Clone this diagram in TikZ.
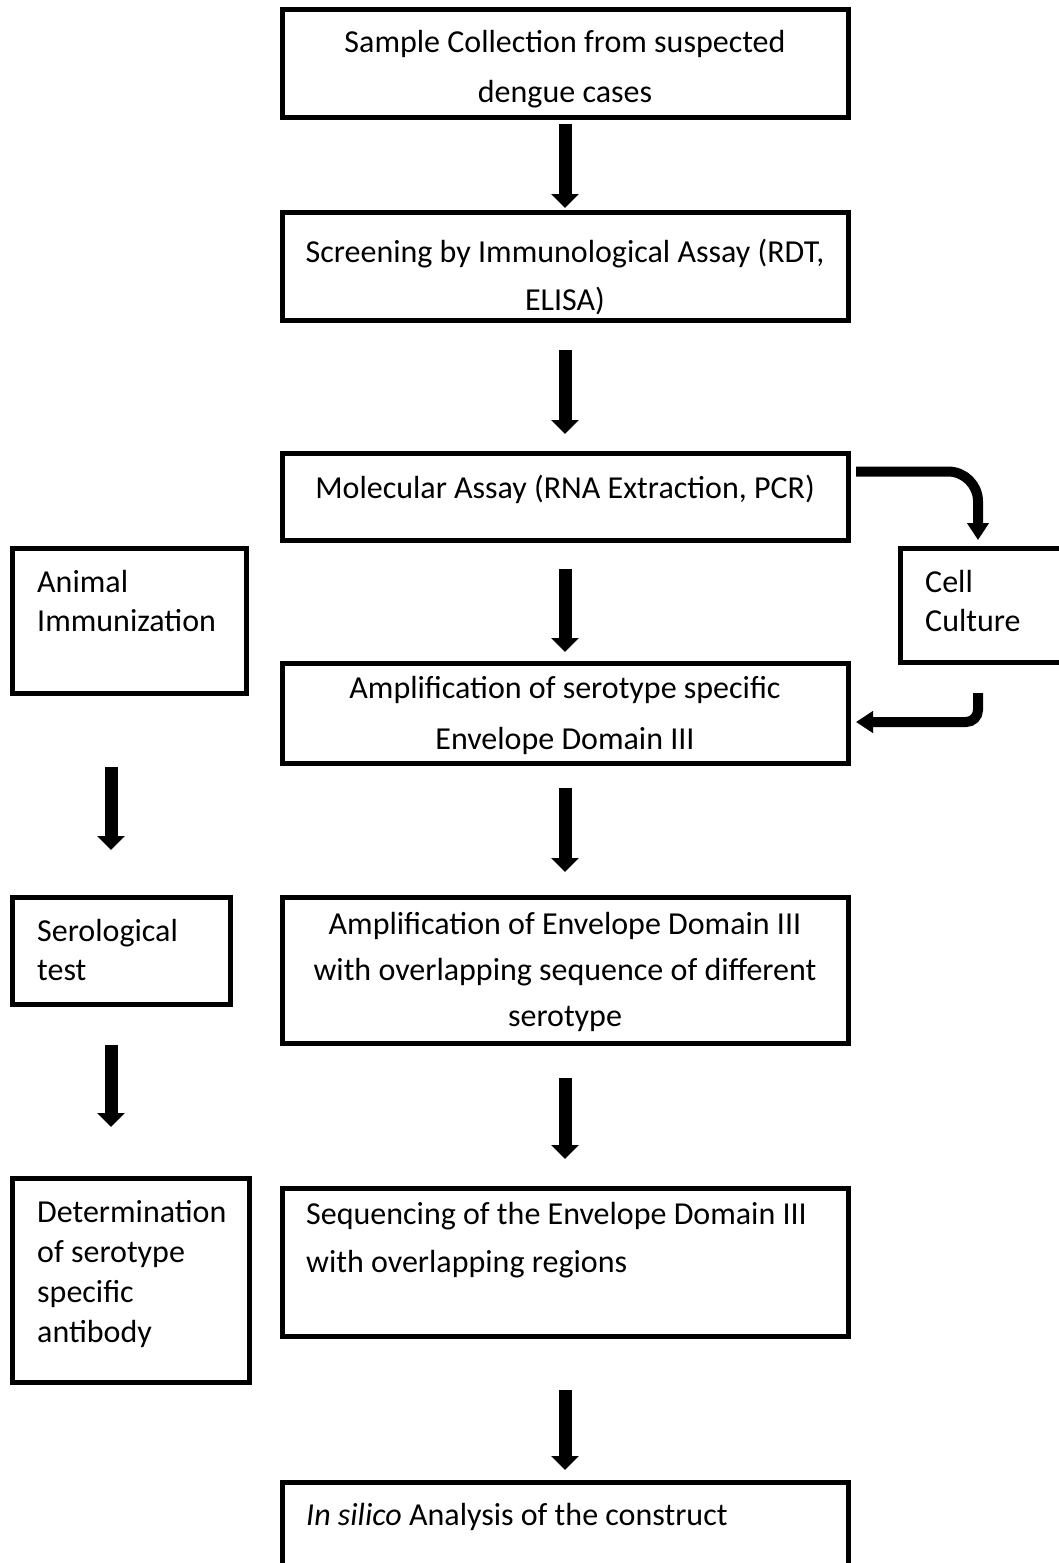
\documentclass[tikz,border=0pt]{standalone}
\usepackage{fontspec}
\setmainfont{Carlito}
\usetikzlibrary{arrows.meta}

\begin{document}
\begin{tikzpicture}[x=1pt,y=-1pt,
  box/.style={draw, line width=5pt, inner sep=0pt, outer sep=0pt, rectangle},
  txt/.style={inner sep=0pt, font=\fontsize{32}{#1}\selectfont},
  txt/.default=40,
  bigarrow/.style={line width=13pt, -{Triangle[width=27pt,length=14pt]}},
  bendarrow/.style={line width=10pt, -{Triangle[width=21pt,length=17pt]}}]
  \useasboundingbox (0,0) rectangle (1059,1563);
  \clip (0,0) rectangle (1059,1563);

  % main column boxes
  \node[box, minimum width=566pt, minimum height=107pt] (b1) at (565,63.5) {};
  \node[box, minimum width=566pt, minimum height=108pt] (b2) at (565,266) {};
  \node[box, minimum width=566pt, minimum height=87pt] (b3) at (565,496.5) {};
  \node[box, minimum width=566pt, minimum height=100pt] (b4) at (565,713) {};
  \node[box, minimum width=566pt, minimum height=146pt] (b5) at (565,970) {};
  \node[box, minimum width=566pt, minimum height=148pt] (b6) at (565,1262) {};
  \node[box, minimum width=566pt, minimum height=150pt] (b7) at (565,1557) {};

  % side boxes
  \node[box, minimum width=234pt, minimum height=145pt] (anim) at (129,620.5) {};
  \node[box, minimum width=218pt, minimum height=107pt] (sero) at (121,950.5) {};
  \node[box, minimum width=237pt, minimum height=204pt] (det) at (130.5,1280) {};
  \node[box, minimum width=170pt, minimum height=114pt] (cell) at (985,605) {};

  % box texts (base anchor = baseline of the last line)
  \node[txt=50, align=center, anchor=base] (t1) at (565,102) {Sample Collection from suspected\\dengue cases};
  \node[txt=48, align=center, anchor=base] (t2) at (565,310) {Screening by Immunological Assay (RDT,\\ELISA)};
  \node[txt, anchor=base] (t3) at (565,498) {Molecular Assay (RNA Extraction, PCR)};
  \node[txt=51, align=center, anchor=base] (t4) at (565,749) {Amplification of serotype specific\\Envelope Domain III};
  \node[txt=46, align=center, anchor=base] (t5) at (565,1026) {Amplification of Envelope Domain III\\with overlapping sequence of different\\serotype};
  \node[txt=48, align=left, anchor=base west] (t6) at (306,1272) {Sequencing of the Envelope Domain III\\with overlapping regions};
  \node[txt, anchor=base west] (t7) at (306,1525) {\textit{In silico} Analysis of the construct};
  \node[txt=39, align=left, anchor=base west] (ta) at (37,631) {Animal\\Immunization};
  \node[txt=39, align=left, anchor=base west] (ts) at (37,980) {Serological\\test};
  \node[txt=40, align=left, anchor=base west] (td) at (37,1342) {Determination\\of serotype\\specific\\antibody};
  \node[txt=39, align=left, anchor=base west] (tc) at (925,631) {Cell\\Culture};

  % arrow columns
  \coordinate (lcol) at (111,0);
  \coordinate (rcol) at (978,0);

  % main column arrows
  \draw[bigarrow, shorten <=7pt, shorten >=4pt] (b1) -- (b2);
  \draw[bigarrow, shorten <=30pt, shorten >=19pt] (b2) -- (b3);
  \draw[bigarrow, shorten <=29pt, shorten >=11pt] (b3) -- (b4);
  \draw[bigarrow, shorten <=25pt, shorten >=25pt] (b4) -- (b5);
  \draw[bigarrow, shorten <=35pt, shorten >=29pt] (b5) -- (b6);
  \draw[bigarrow, shorten <=54pt, shorten >=12pt] (b6) -- (b7);

  % side column arrows
  \draw[bigarrow, shorten <=74pt, shorten >=47pt] (anim.south -| lcol) -- (sero.north -| lcol);
  \draw[bigarrow, shorten <=41pt, shorten >=51pt] (sero.south -| lcol) -- (det.north -| lcol);

  % bent arrows to and from the cell culture box
  \draw[bendarrow, rounded corners=30pt, shorten >=8pt]
    ([xshift=8pt,yshift=25pt]b3.east) -| (cell.north -| rcol);
  \draw[bendarrow, rounded corners=12pt, shorten <=31pt, shorten >=8pt]
    (cell.south -| rcol) |- ([yshift=-9pt]b4.east);
\end{tikzpicture}
\end{document}
